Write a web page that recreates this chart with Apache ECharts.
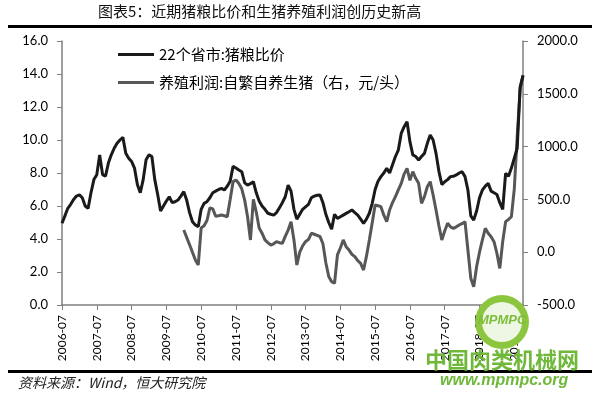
<!DOCTYPE html>
<html>
<head>
<meta charset="utf-8">
<script src="https://cdn.jsdelivr.net/npm/echarts@6/dist/echarts.min.js"></script>
<style>html,body{margin:0;padding:0;background:#fff;}#c{width:600px;height:399px;}</style>
</head>
<body>
<div id="c"></div>
<script>
// Months from 2006-07 to 2019-10
const months = [];
for (let y = 2006, m = 7; !(y === 2019 && m === 11); ) {
  months.push(y + '-' + (m < 10 ? '0' + m : m));
  m++; if (m > 12) { m = 1; y++; }
}
const ratioName = '22个省市:猪粮比价';
const profitName = '养殖利润:自繁自养生猪（右，元/头）';
const leftTicks = [0, 2, 4, 6, 8, 10, 12, 14, 16];
const rightTicks = [-500, 0, 500, 1000, 1500, 2000];

const ratio = [
4.95,5.4,5.86,6.1,6.4,6.6,6.67,6.5,6.0,5.85,
6.8,7.6,7.9,9.1,7.9,7.8,8.6,9.1,9.5,9.8,
10.0,10.16,9.2,8.9,8.7,8.3,7.3,6.8,7.6,8.8,
9.1,9.0,7.6,6.7,5.7,6.0,6.3,6.56,6.2,6.26,
6.36,6.6,6.87,6.36,5.6,5.05,4.85,4.75,5.8,6.16,
6.26,6.5,6.8,6.9,7.0,7.07,6.97,7.2,7.5,8.4,
8.3,8.18,8.08,7.4,7.27,7.35,7.47,6.8,6.3,6.0,
5.8,5.56,5.5,5.45,5.6,5.9,6.2,6.56,7.27,6.9,
5.8,5.2,5.5,5.8,5.95,6.1,6.5,6.6,6.65,6.67,
6.2,5.5,5.0,4.6,5.5,5.25,5.35,5.45,5.55,5.65,
5.76,5.6,5.45,5.2,4.95,5.2,5.56,6.16,7.0,7.5,
7.78,8.0,8.28,8.0,8.5,9.0,9.39,10.4,10.81,11.11,
9.9,9.1,9.0,8.79,9.0,9.19,9.8,10.3,10.0,9.19,
8.1,7.3,7.47,7.6,7.78,7.8,7.88,8.0,8.08,7.78,
6.97,5.4,5.15,5.7,6.5,6.97,7.2,7.37,6.9,6.8,
6.7,6.2,5.8,7.98,7.8,8.3,8.9,9.5,13.2,13.9
];

const profit = [
null,null,null,null,null,null,null,null,null,null,
null,null,null,null,null,null,null,null,null,null,
null,null,null,null,null,null,null,null,null,null,
null,null,null,null,null,null,null,null,null,null,
null,null,210,140,70,0,-74,-121,230,250,
300,420,410,340,345,352,345,336,500,668,
684,650,600,494,336,116,500,380,230,180,
116,90,68,80,100,90,84,150,210,289,
116,-121,0,60,100,120,179,170,160,147,
80,-100,-230,-279,-294,-26,40,116,52,20,
-20,-42,-80,-105,-169,-40,116,280,447,440,
431,350,289,400,470,526,590,652,740,794,
680,763,700,652,463,526,620,668,542,400,
250,116,200,274,240,226,240,258,270,289,
21,-247,-327,-137,0,116,226,180,147,100,
-10,-153,100,289,310,336,600,1094,1536,1678
];

const chart = echarts.init(document.getElementById('c'), null, {renderer: 'canvas'});
const axisGray = '#7f7f7f';
const numFont = 'Lato, "Noto Sans", sans-serif';
const cjk = '"Noto Sans CJK SC", sans-serif';

chart.setOption({
  animation: false,
  backgroundColor: '#fff',
  grid: {left: 62, right: 77, top: 41, bottom: 94, containLabel: false},
  legend: [
    {data: [ratioName], left: 113, top: 42, orient: 'vertical', icon: 'rect', itemWidth: 36, itemHeight: 3,
     textStyle: {fontFamily: cjk, fontSize: 15, color: '#000'}},
    {data: [profitName], left: 113, top: 70, orient: 'vertical', icon: 'rect', itemWidth: 36, itemHeight: 3,
     textStyle: {fontFamily: cjk, fontSize: 15, color: '#000'}}
  ],
  xAxis: {
    type: 'category', data: months, boundaryGap: false,
    axisLine: {show: true, lineStyle: {color: axisGray, width: 1.5}},
    axisTick: {show: true, interval: 11, length: 5, lineStyle: {color: axisGray, width: 1}},
    axisLabel: {interval: 11, rotate: 90, margin: 10, fontFamily: numFont, fontSize: 12, color: '#000'},
    splitLine: {show: false}
  },
  yAxis: [
    {type: 'value', min: leftTicks[0], max: leftTicks[leftTicks.length - 1], interval: 2, position: 'left',
     axisLine: {show: true, lineStyle: {color: axisGray, width: 1.5}},
     axisTick: {show: true, length: 5, lineStyle: {color: axisGray}},
     axisLabel: {margin: 14, fontFamily: numFont, fontSize: 13, color: '#000', formatter: v => v.toFixed(1)},
     splitLine: {show: false}},
    {type: 'value', min: rightTicks[0], max: rightTicks[rightTicks.length - 1], interval: 500, position: 'right',
     axisLine: {show: true, lineStyle: {color: axisGray, width: 1.5}},
     axisTick: {show: true, length: 5, lineStyle: {color: axisGray}},
     axisLabel: {margin: 14, fontFamily: numFont, fontSize: 13, color: '#000', formatter: v => v.toFixed(1)},
     splitLine: {show: false}}
  ],
  series: [
    {name: ratioName, type: 'line', data: ratio, yAxisIndex: 0, symbol: 'none',
     lineStyle: {color: '#1a1a1a', width: 3}, itemStyle: {color: '#1a1a1a'}, z: 3},
    {name: profitName, type: 'line', data: profit, yAxisIndex: 1, symbol: 'none',
     lineStyle: {color: '#575757', width: 3}, itemStyle: {color: '#575757'}, z: 2}
  ],
  graphic: [
    {type: 'text', left: 98, top: 4, style: {text: '图表5：近期猪粮比价和生猪养殖利润创历史新高', fontFamily: cjk, fontSize: 15, fill: '#111'}},
    {type: 'rect', shape: {x: 8, y: 25, width: 584, height: 3}, style: {fill: '#000'}},
    {type: 'rect', shape: {x: 8, y: 370, width: 584, height: 3}, style: {fill: '#000'}},
    {type: 'text', left: 18, top: 376, style: {text: '资料来源：Wind，恒大研究院', fontFamily: cjk, fontSize: 14, fontStyle: 'italic', fill: '#222'}},
    {type: 'circle', shape: {cx: 502, cy: 322, r: 27}, style: {fill: '#8cc63f'}, z: 100},
    {type: 'circle', shape: {cx: 502, cy: 322, r: 20}, style: {fill: '#eef6e4'}, z: 101},
    {type: 'text', x: 478, y: 314, style: {text: 'MPMPC', fontFamily: 'Liberation Sans', fontSize: 13, fontWeight: 'bold', fontStyle: 'italic', fill: '#7cbd3a'}, z: 102},
    {type: 'text', x: 425, y: 349, style: {text: '中国肉类机械网', fontFamily: cjk, fontSize: 22, fontWeight: 'bold', fill: '#6fb83a'}, z: 102},
    {type: 'text', x: 440, y: 373, style: {text: 'www.mpmpc.org', fontFamily: 'Liberation Sans', fontSize: 16, fontWeight: 'bold', fontStyle: 'italic', fill: '#6fb83a'}, z: 102}
  ]
});
</script>
</body>
</html>
